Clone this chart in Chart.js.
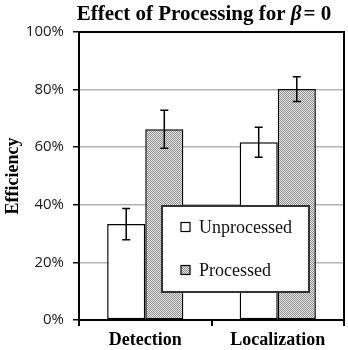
<!DOCTYPE html>
<html>
<head>
<meta charset="utf-8">
<script src="https://cdn.jsdelivr.net/npm/chart.js@4"></script>
<style>
  html, body { margin: 0; padding: 0; background: #fff; }
  #wrap { width: 348px; height: 350px; }
</style>
</head>
<body>
<div id="wrap"><canvas id="chart" width="348" height="350"></canvas></div>
<script>
const categories = ['Detection', 'Localization'];
const seriesNames = ['Unprocessed', 'Processed'];
const unprocessed = [33.3, 61.7];
const processed = [66.2, 80.2];
const unprocessedErr = [5.4, 5.2];
const processedErr = [6.6, 4.3];
const yTicks = [0, 20, 40, 60, 80, 100];

const serif = '"Liberation Serif", "Times New Roman", serif';
const sans = '"Open Sans", "Liberation Sans", sans-serif';

// dotted gray fill like the original
function makePattern() {
    const c = document.createElement('canvas');
    c.width = 2; c.height = 2;
    const g = c.getContext('2d');
    g.fillStyle = '#e0e0e0';
    g.fillRect(0, 0, 2, 2);
    g.fillStyle = '#959595';
    g.fillRect(0, 0, 1, 1);
    g.fillRect(1, 1, 1, 1);
    return g.createPattern(c, 'repeat');
}
const dots = makePattern();

// error bars, top/right frame, title and legend box
const extras = {
    id: 'extras',
    afterDatasetsDraw(chart) {
        const ctx = chart.ctx;
        const area = chart.chartArea;
        const y = chart.scales.y;
        const errs = [unprocessedErr, processedErr];

        ctx.save();
        ctx.strokeStyle = '#000';
        ctx.lineWidth = 1.5;
        chart.data.datasets.forEach((ds, i) => {
            const meta = chart.getDatasetMeta(i);
            meta.data.forEach((bar, j) => {
                const v = ds.data[j];
                const top = y.getPixelForValue(v + errs[i][j]);
                const bot = y.getPixelForValue(v - errs[i][j]);
                ctx.beginPath();
                ctx.moveTo(bar.x, top); ctx.lineTo(bar.x, bot);
                ctx.moveTo(bar.x - 4, top); ctx.lineTo(bar.x + 4, top);
                ctx.moveTo(bar.x - 4, bot); ctx.lineTo(bar.x + 4, bot);
                ctx.stroke();
            });
        });

        // frame top and right
        ctx.lineWidth = 2;
        ctx.strokeStyle = '#000';
        ctx.beginPath();
        ctx.moveTo(area.left, area.top);
        ctx.lineTo(area.right, area.top);
        ctx.lineTo(area.right, area.bottom);
        ctx.stroke();

        // title
        ctx.fillStyle = '#000';
        ctx.textBaseline = 'alphabetic';
        const p1 = 'Effect of Processing for ';
        const p2 = '\u03B2';
        const p3 = '= 0';
        const tf = 21;
        ctx.font = 'bold ' + tf + 'px ' + serif;
        const w1 = ctx.measureText(p1).width;
        const w3 = ctx.measureText(p3).width;
        ctx.font = 'italic bold ' + tf + 'px ' + serif;
        const w2 = ctx.measureText(p2).width + 2;
        let tx = 204 - (w1 + w2 + w3) / 2;
        ctx.font = 'bold ' + tf + 'px ' + serif;
        ctx.fillText(p1, tx, 20);
        ctx.font = 'italic bold ' + tf + 'px ' + serif;
        ctx.fillText(p2, tx + w1, 20);
        ctx.font = 'bold ' + tf + 'px ' + serif;
        ctx.fillText(p3, tx + w1 + w2, 20);

        // legend box
        const lx = 162, ly = 206, lw = 147, lh = 86;
        ctx.fillStyle = '#fff';
        ctx.fillRect(lx, ly, lw, lh);
        ctx.strokeStyle = '#333';
        ctx.lineWidth = 2;
        ctx.strokeRect(lx, ly, lw, lh);
        const fills = ['#fff', dots];
        ctx.font = '18px ' + serif;
        ctx.textBaseline = 'middle';
        seriesNames.forEach((name, i) => {
            const cy = ly + 21 + i * 43;
            ctx.fillStyle = fills[i];
            ctx.fillRect(lx + 19, cy - 4.5, 9, 9);
            ctx.strokeStyle = '#000';
            ctx.lineWidth = 1.2;
            ctx.strokeRect(lx + 19, cy - 4.5, 9, 9);
            ctx.fillStyle = '#111';
            ctx.fillText(name, lx + 37, cy + 1);
        });
        ctx.restore();
    }
};

new Chart(document.getElementById('chart'), {
    type: 'bar',
    data: {
        labels: categories,
        datasets: [{
            label: seriesNames[0],
            data: unprocessed,
            backgroundColor: '#fff',
            borderColor: '#000',
            borderWidth: 1.5,
            borderSkipped: false
        }, {
            label: seriesNames[1],
            data: processed,
            backgroundColor: dots,
            borderColor: '#000',
            borderWidth: 1.5,
            borderSkipped: false
        }]
    },
    options: {
        responsive: false,
        animation: false,
        categoryPercentage: 0.575,
        barPercentage: 1,
        layout: { padding: { top: 32, right: 4, left: 3, bottom: 0 } },
        plugins: {
            legend: { display: false },
            title: { display: false },
            tooltip: { enabled: false }
        },
        scales: {
            y: {
                min: 0,
                max: 100,
                afterFit: (s) => { s.width = 76; },
                afterBuildTicks: (s) => { s.ticks = yTicks.map(v => ({ value: v })); },
                ticks: {
                    callback: (v) => v + '%',
                    color: '#1a1a1a',
                    padding: 9,
                    font: { family: sans, size: 15 }
                },
                grid: {
                    color: (c) => c.tick && c.tick.value > 0 && c.tick.value < 100 ? '#b4b4b4' : 'rgba(0,0,0,0)',
                    lineWidth: 1.5,
                    tickColor: '#000',
                    tickLength: 6
                },
                border: { color: '#000', width: 2 },
                title: {
                    display: true,
                    text: 'Efficiency',
                    color: '#000',
                    padding: 0,
                    font: { family: serif, size: 18, weight: 'bold' }
                }
            },
            x: {
                afterFit: (s) => { s.height = 30; },
                ticks: {
                    color: '#000',
                    padding: 4,
                    font: { family: serif, size: 18, weight: 'bold' }
                },
                grid: {
                    offset: true,
                    drawOnChartArea: false,
                    tickColor: '#000',
                    tickLength: 6,
                    lineWidth: 2
                },
                border: { color: '#000', width: 2 }
            }
        }
    },
    plugins: [extras]
});
</script>
</body>
</html>
